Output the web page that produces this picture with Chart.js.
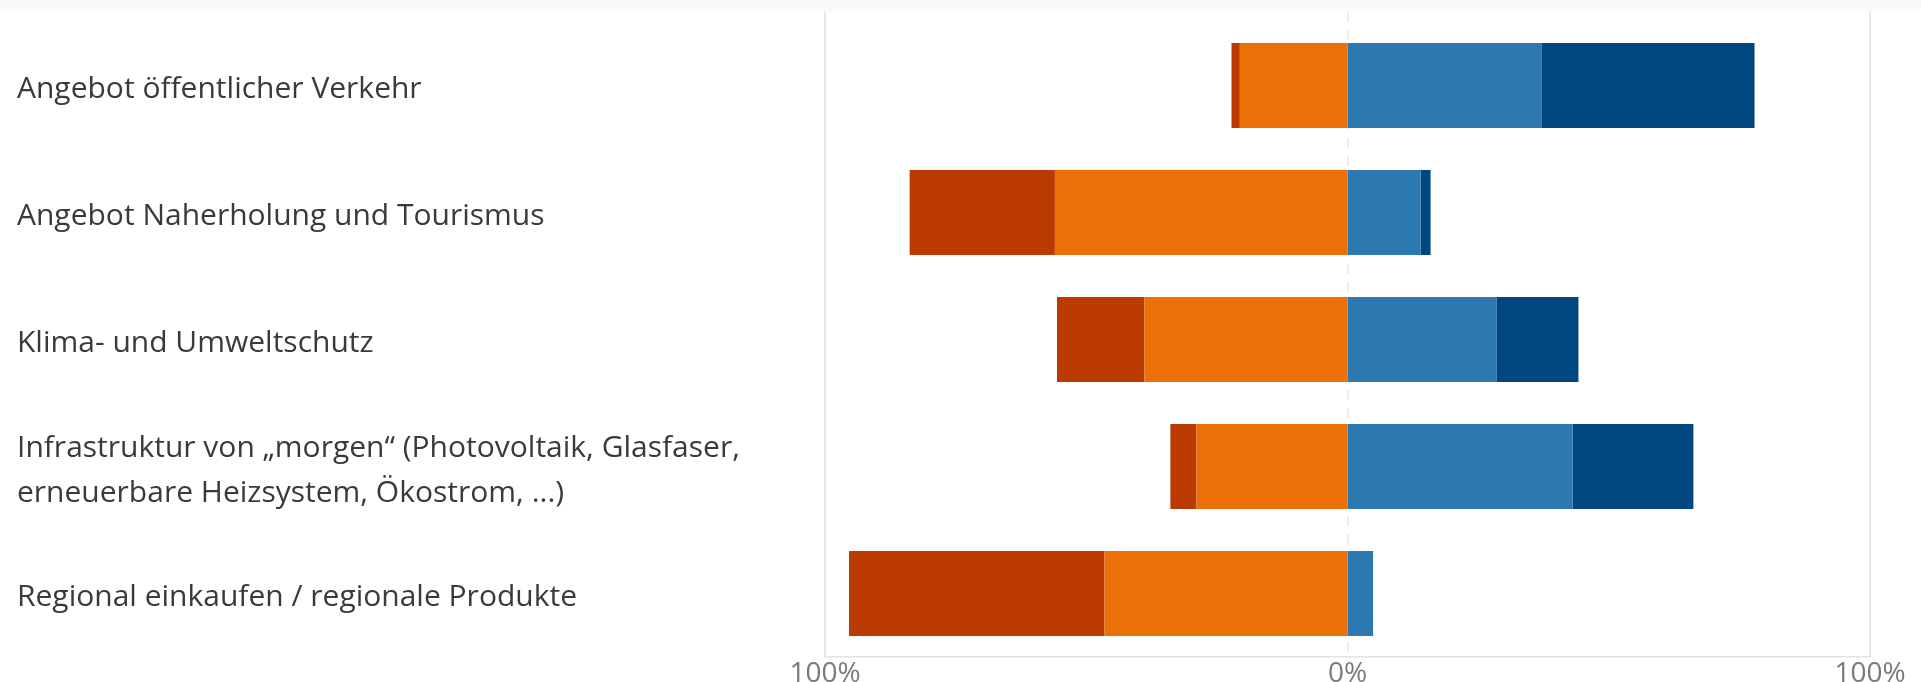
<!DOCTYPE html>
<html>
<head>
<meta charset="utf-8">
<script src="https://cdn.jsdelivr.net/npm/chart.js@4/dist/chart.umd.min.js"></script>
<style>
  html, body { margin: 0; padding: 0; background: #ffffff; overflow: hidden; }
  #band { height: 12px; background: #fafbf8; }
  #wrap { position: relative; width: 1921px; height: 670px; }
</style>
</head>
<body>
<div id="band"></div>
<div id="wrap"><canvas id="likertChart"></canvas></div>
<script>
// categories (top to bottom)
var categories = [
    'Angebot öffentlicher Verkehr',
    'Angebot Naherholung und Tourismus',
    'Klima- und Umweltschutz',
    ['Infrastruktur von „morgen“ (Photovoltaik, Glasfaser,', 'erneuerbare Heizsystem, Ökostrom, ...)'],
    'Regional einkaufen / regionale Produkte'
];

// shares in %, negative side drawn to the left of 0
var eherUnwichtig = [-20.6, -56.0, -38.9, -28.9, -46.5];
var unwichtig = [-1.6, -27.8, -16.7, -5.0, -48.9];
var eherWichtig = [37.1, 14.0, 28.5, 43.1, 4.9];
var sehrWichtig = [40.8, 1.9, 15.7, 23.1, 0];

var xTicks = [-100, 0, 100];

// vertical grid lines, the one at 0 dashed; they reach a bit above the plot area
var gridLines = {
    id: 'gridLines',
    beforeDatasetsDraw: function(chart) {
        var ctx = chart.ctx;
        var area = chart.chartArea;
        var xScale = chart.scales.x;
        ctx.save();
        xTicks.forEach(function(v) {
            var x = xScale.getPixelForValue(v);
            ctx.beginPath();
            if (v === 0) {
                ctx.strokeStyle = '#dcdcdc';
                ctx.lineWidth = 1;
                ctx.setLineDash([10, 8]);
                x += 0.5;
            } else {
                ctx.strokeStyle = '#e0e0e0';
                ctx.lineWidth = 1.5;
                ctx.setLineDash([]);
            }
            ctx.moveTo(x, area.top - 10);
            ctx.lineTo(x, area.bottom);
            ctx.stroke();
        });
        ctx.restore();
    }
};

const chart = new Chart(document.getElementById('likertChart'), {
    type: 'bar',
    data: {
        labels: categories,
        datasets: [
            { label: 'eher unwichtig', data: eherUnwichtig, backgroundColor: '#eb7007' },
            { label: 'unwichtig', data: unwichtig, backgroundColor: '#ba3a02' },
            { label: 'eher wichtig', data: eherWichtig, backgroundColor: '#2c78b0' },
            { label: 'sehr wichtig', data: sehrWichtig, backgroundColor: '#004781' }
        ]
    },
    options: {
        indexAxis: 'y',
        responsive: true,
        maintainAspectRatio: false,
        animation: false,
        layout: {
            padding: { left: 17, right: 51, top: 10, bottom: 0 }
        },
        datasets: {
            bar: { barPercentage: 0.67, categoryPercentage: 1.0, borderWidth: 0 }
        },
        plugins: {
            legend: { display: false },
            tooltip: { enabled: false }
        },
        scales: {
            x: {
                stacked: true,
                min: -100,
                max: 100,
                afterBuildTicks: function(scale) {
                    scale.ticks = xTicks.map(function(v) { return { value: v }; });
                },
                afterFit: function(scale) {
                    scale.height = 25;
                },
                grid: { display: false, drawTicks: false },
                border: { display: true, color: '#e3e3e3', width: 1.5 },
                ticks: {
                    padding: 0,
                    color: '#7a7a7a',
                    font: { family: 'Open Sans', size: 28 },
                    callback: function(v) { return Math.abs(v) + '%'; }
                }
            },
            y: {
                stacked: true,
                afterFit: function(scale) {
                    scale.width = 808;
                    scale.paddingTop = 0;
                    scale.paddingBottom = 0;
                },
                grid: { display: false },
                border: { display: false },
                ticks: {
                    crossAlign: 'far',
                    labelOffset: 4,
                    color: '#3a3a3a',
                    font: { family: 'Open Sans', size: 30, lineHeight: 1.5 }
                }
            }
        }
    },
    plugins: [gridLines]
});
</script>
</body>
</html>
